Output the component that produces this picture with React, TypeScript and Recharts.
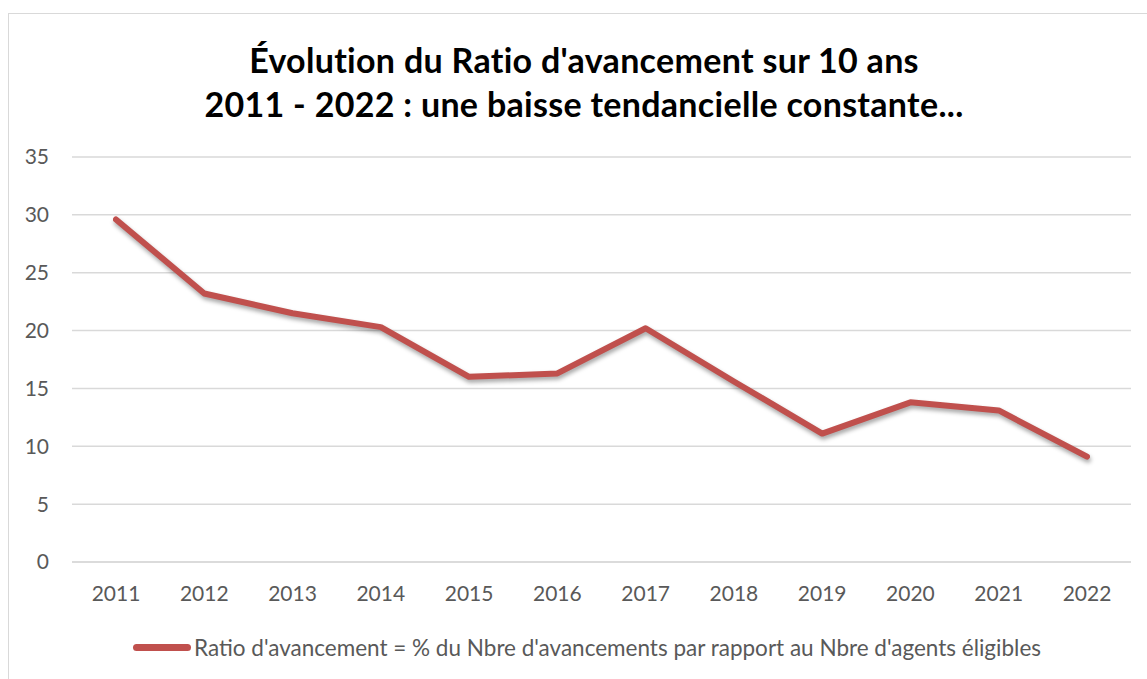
import React from "react";
import { LineChart, Line, XAxis, YAxis, CartesianGrid } from "recharts";

const years = ["2011", "2012", "2013", "2014", "2015", "2016", "2017", "2018", "2019", "2020", "2021", "2022"];
const ratio = [29.6, 23.2, 21.5, 20.3, 16.0, 16.3, 20.2, 15.6, 11.1, 13.8, 13.1, 9.1];
const yTicks = [0, 5, 10, 15, 20, 25, 30, 35];

const titleLines = [
  "Évolution du Ratio d'avancement sur 10 ans",
  "2011 - 2022 : une baisse tendancielle constante...",
];
const seriesName = "Ratio d'avancement = % du Nbre d'avancements par rapport au Nbre d'agents éligibles";

const RED = "#c0504d";
const GRID = "#d9d9d9";
const TEXT = "#595959";
const FONT = "Lato, 'Open Sans', sans-serif";

const data = years.map((y, i) => ({ year: y, ratio: ratio[i] }));

export default function App() {
  return (
    <div
      style={{
        position: "absolute",
        left: 8,
        top: 13,
        width: 1139,
        height: 666,
        boxSizing: "border-box",
        borderTop: `1px solid ${GRID}`,
        borderLeft: `1px solid ${GRID}`,
        background: "#fff",
        fontFamily: FONT,
        overflow: "hidden",
      }}
    >
      <style>{`.ratio-line path { filter: drop-shadow(1px 3px 2px rgba(0,0,0,0.35)); }`}</style>
      <div
        style={{
          position: "absolute",
          top: 24,
          left: 12,
          right: 0,
          textAlign: "center",
          fontWeight: 700,
          fontSize: 34,
          letterSpacing: 0.3,
          lineHeight: "44px",
          color: "#000",
        }}
      >
        {titleLines.map((t) => (
          <div key={t}>{t}</div>
        ))}
      </div>
      <div style={{ position: "absolute", left: 0, top: 0 }}>
        <LineChart width={1138} height={665} data={data} margin={{ top: 143, right: 16, bottom: 87, left: 0 }}>
          <CartesianGrid vertical={false} stroke={GRID} strokeWidth={1.5} />
          <XAxis
            dataKey="year"
            scale="point"
            padding={{ left: 44, right: 44 }}
            axisLine={{ stroke: GRID, strokeWidth: 1.5 }}
            tickLine={false}
            tickSize={0}
            tickMargin={24}
            height={30}
            tick={{ fontSize: 21, fill: TEXT, fontFamily: FONT }}
            interval={0}
          />
          <YAxis
            domain={[0, 35]}
            ticks={yTicks}
            axisLine={false}
            tickLine={false}
            tickSize={0}
            tickMargin={23}
            width={63}
            tick={{ fontSize: 21, fill: TEXT, fontFamily: FONT }}
          />
          <Line
            className="ratio-line"
            type="linear"
            dataKey="ratio"
            name={seriesName}
            stroke={RED}
            strokeWidth={6}
            strokeLinecap="round"
            strokeLinejoin="round"
            dot={false}
            isAnimationActive={false}
          />
        </LineChart>
      </div>
      <div
        style={{
          position: "absolute",
          top: 621,
          left: 18,
          width: 1120,
          height: 24,
          display: "flex",
          alignItems: "center",
          justifyContent: "center",
          fontSize: 22.5,
          color: TEXT,
        }}
      >
        <span
          style={{
            display: "inline-block",
            width: 58,
            height: 7,
            borderRadius: 3.5,
            background: RED,
            marginRight: 3,
          }}
        />
        <span>{seriesName}</span>
      </div>
    </div>
  );
}
